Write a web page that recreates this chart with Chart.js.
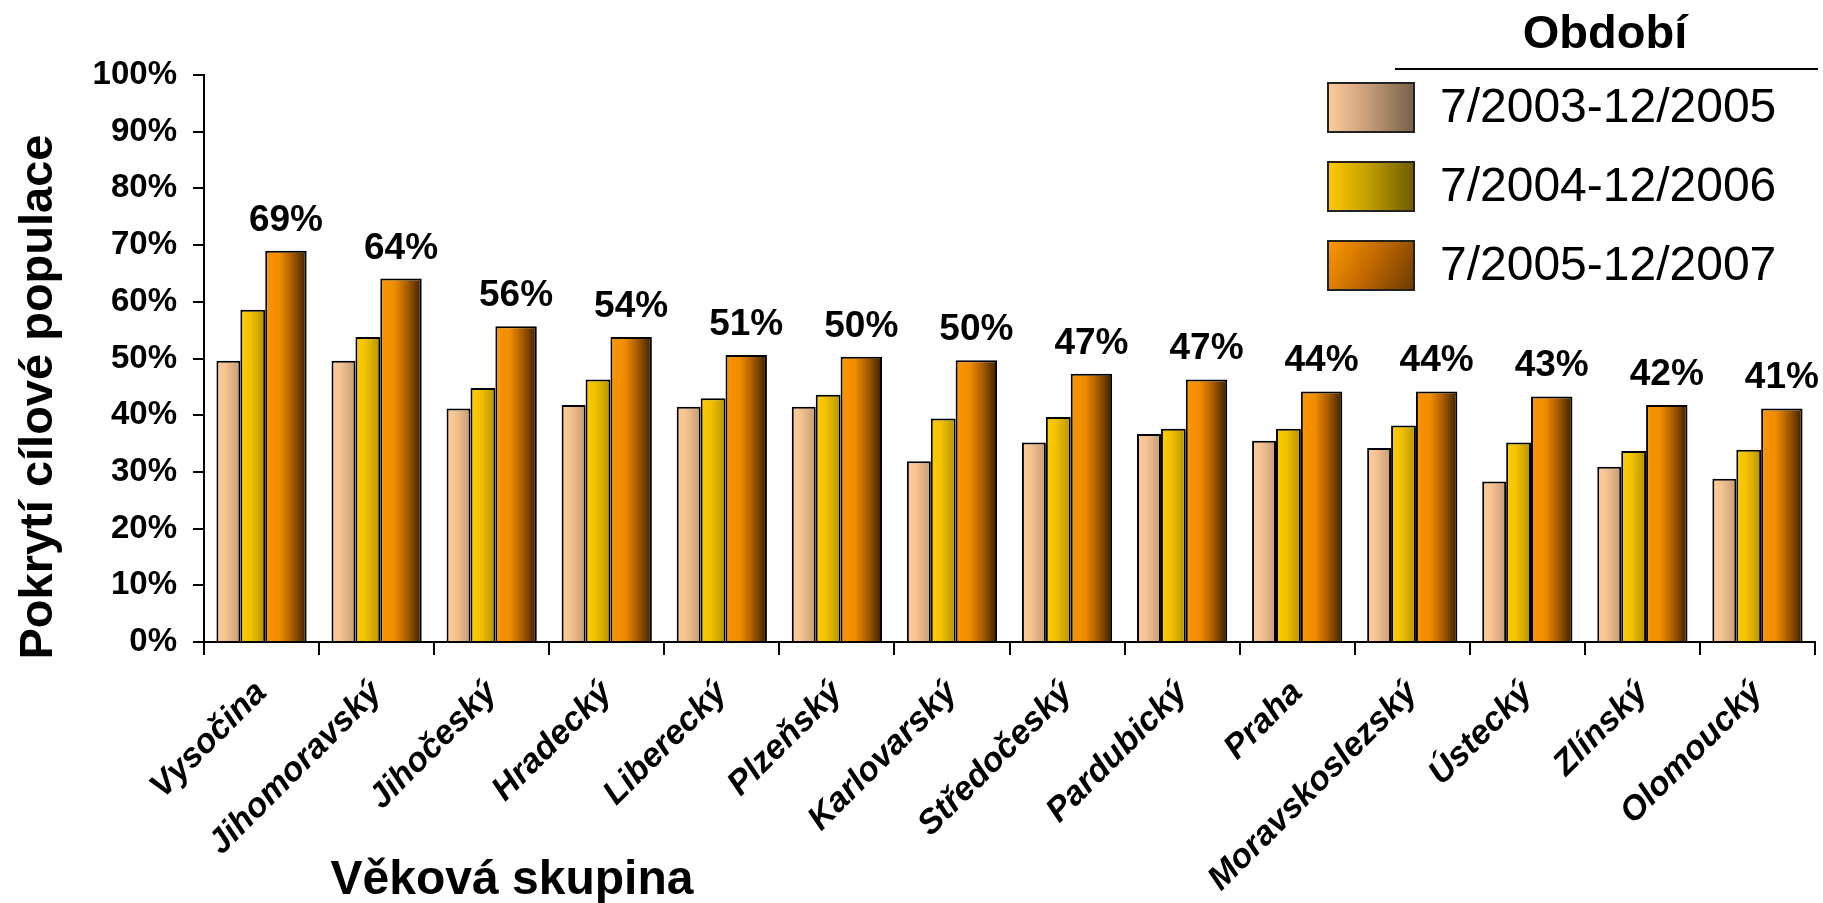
<!DOCTYPE html>
<html>
<head>
<meta charset="utf-8">
<script src="https://cdn.jsdelivr.net/npm/chart.js@4.4.0/dist/chart.umd.min.js"></script>
<style>
  html, body { margin: 0; padding: 0; background: #fff; }
  #wrap { width: 1823px; height: 903px; }
</style>
</head>
<body>
<div id="wrap"><canvas id="coverageChart" width="1823" height="903"></canvas></div>
<script>
// Kraje (kategorie)
const regions = ['Vysočina', 'Jihomoravský', 'Jihočeský', 'Hradecký', 'Liberecký', 'Plzeňský',
    'Karlovarský', 'Středočeský', 'Pardubický', 'Praha', 'Moravskoslezský', 'Ústecký', 'Zlínský', 'Olomoucký'];

// Pokrytí v % za jednotlivá období
const period0305 = [49.6, 49.6, 41.2, 41.8, 41.5, 41.5, 31.9, 35.2, 36.7, 35.5, 34.2, 28.3, 30.9, 28.8];
const period0406 = [58.6, 53.8, 44.8, 46.3, 43.0, 43.6, 39.4, 39.7, 37.6, 37.6, 38.2, 35.2, 33.7, 33.9];
const period0507 = [69.0, 64.1, 55.7, 53.8, 50.6, 50.3, 49.7, 47.3, 46.3, 44.2, 44.2, 43.3, 41.8, 41.2];

// popisky nad poslednim obdobim
const topLabels = ['69%', '64%', '56%', '54%', '51%', '50%', '50%', '47%', '47%', '44%', '44%', '43%', '42%', '41%'];

const periodNames = ['7/2003-12/2005', '7/2004-12/2006', '7/2005-12/2007'];
const legendTitle = 'Období';
const yTitle = 'Pokrytí cílové populace';
const xTitle = 'Věková skupina';
const yMax = 100;
const yStep = 10;

const FONT = '"Liberation Sans", Arial, sans-serif';

// sirky sloupcu v ramci kategorie (podil sirky kategorie)
const slotStart = [0.108, 0.316, 0.532];
const slotWidth = [0.208, 0.216, 0.360];

// barevne prechody sloupcu
const shades = [
    [[0, '#fdcb98'], [0.35, '#f7c593'], [1, '#c59b74']],
    [[0, '#ffcc00'], [0.4, '#f2c200'], [1, '#b59300']],
    [[0, '#fa9600'], [0.35, '#f08c00'], [0.65, '#a85c00'], [1, '#3a2000']]
];
const legendShades = [
    [[0, '#ffcc99'], [0.45, '#c99f7a'], [1, '#76604a']],
    [[0, '#ffcc00'], [0.45, '#c4a000'], [1, '#6e5c00']],
    [[0, '#ff9900'], [0.5, '#c06800'], [1, '#6a3a00']]
];

function slotGeom(chart, d, i) {
    const x = chart.scales.x;
    const step = x.getPixelForValue(1) - x.getPixelForValue(0);
    const left = x.getPixelForValue(i) - step / 2 + step * slotStart[d];
    return { left: left, width: step * slotWidth[d] };
}

function barFill(context) {
    const chart = context.chart;
    const d = context.datasetIndex;
    if (!chart.chartArea || !chart.scales.x || context.type !== 'data') return shades[d][0][1];
    const g = slotGeom(chart, d, context.dataIndex);
    const grad = chart.ctx.createLinearGradient(g.left, 0, g.left + g.width, 0);
    shades[d].forEach(s => grad.addColorStop(s[0], s[1]));
    return grad;
}

// uprava sirek sloupcu + popisky
const barLayout = {
    id: 'barLayout',
    beforeDatasetsDraw(chart) {
        chart.data.datasets.forEach((ds, d) => {
            chart.getDatasetMeta(d).data.forEach((bar, i) => {
                const g = slotGeom(chart, d, i);
                bar.x = g.left + g.width / 2;
                bar.width = g.width;
            });
        });
    },
    afterDatasetsDraw(chart) {
        const ctx = chart.ctx;
        const meta = chart.getDatasetMeta(2);
        ctx.save();
        ctx.fillStyle = '#000';
        ctx.font = 'bold 37px ' + FONT;
        ctx.textAlign = 'center';
        ctx.textBaseline = 'alphabetic';
        meta.data.forEach((bar, i) => {
            ctx.fillText(topLabels[i], bar.x, bar.y - 20);
        });
        ctx.restore();
    }
};

// legenda a nazvy os
const decorations = {
    id: 'decorations',
    afterDraw(chart) {
        const ctx = chart.ctx;
        ctx.save();
        ctx.fillStyle = '#000';

        ctx.font = 'bold 47px ' + FONT;
        ctx.textAlign = 'center';
        ctx.textBaseline = 'alphabetic';
        ctx.fillText(legendTitle, 1605, 48);
        ctx.strokeStyle = '#000';
        ctx.lineWidth = 2;
        ctx.beginPath();
        ctx.moveTo(1395, 69);
        ctx.lineTo(1818, 69);
        ctx.stroke();

        ctx.font = '48px ' + FONT;
        ctx.textAlign = 'left';
        ctx.textBaseline = 'middle';
        periodNames.forEach((name, d) => {
            const top = 83 + d * 79;
            const grad = d === 2
                ? ctx.createLinearGradient(1328, top, 1414, top + 49)
                : ctx.createLinearGradient(1328, 0, 1414, 0);
            legendShades[d].forEach(s => grad.addColorStop(s[0], s[1]));
            ctx.fillStyle = grad;
            ctx.fillRect(1328, top, 86, 49);
            ctx.strokeStyle = '#222';
            ctx.lineWidth = 2;
            ctx.strokeRect(1328, top, 86, 49);
            ctx.fillStyle = '#000';
            ctx.fillText(name, 1440, top + 26);
        });

        ctx.font = 'bold 48px ' + FONT;
        ctx.textAlign = 'center';
        ctx.textBaseline = 'alphabetic';
        ctx.fillText(xTitle, 512, 894);

        ctx.translate(52, 397);
        ctx.rotate(-Math.PI / 2);
        ctx.font = 'bold 47px ' + FONT;
        ctx.fillText(yTitle, 0, 0);
        ctx.restore();
    }
};

const ctx = document.getElementById('coverageChart').getContext('2d');
const chart = new Chart(ctx, {
    type: 'bar',
    data: {
        labels: regions,
        datasets: [period0305, period0406, period0507].map((vals, d) => ({
            label: periodNames[d],
            data: vals,
            backgroundColor: barFill,
            borderColor: '#000',
            borderWidth: 2,
            borderSkipped: 'bottom'
        }))
    },
    options: {
        responsive: false,
        animation: false,
        devicePixelRatio: 1,
        layout: { padding: { top: 75, right: 8, left: 0, bottom: 0 } },
        plugins: {
            legend: { display: false },
            tooltip: { enabled: false }
        },
        scales: {
            x: {
                offset: true,
                grid: {
                    offset: true,
                    drawOnChartArea: false,
                    color: '#000',
                    lineWidth: 2,
                    tickLength: 13
                },
                border: { color: '#000', width: 2 },
                ticks: {
                    color: '#000',
                    font: { family: FONT, size: 34, weight: 'bold', style: 'italic' },
                    minRotation: 45,
                    maxRotation: 45,
                    autoSkip: false,
                    padding: 18
                },
                afterFit(scale) { scale.height = 261; }
            },
            y: {
                min: 0,
                max: yMax,
                grid: {
                    drawOnChartArea: false,
                    color: '#000',
                    lineWidth: 2,
                    tickLength: 11
                },
                border: { color: '#000', width: 2 },
                ticks: {
                    stepSize: yStep,
                    color: '#000',
                    padding: 16,
                    font: { family: FONT, size: 33, weight: 'bold' },
                    callback: v => v + '%'
                },
                afterFit(scale) { scale.width = 204; }
            }
        }
    },
    plugins: [barLayout, decorations]
});
</script>
</body>
</html>
